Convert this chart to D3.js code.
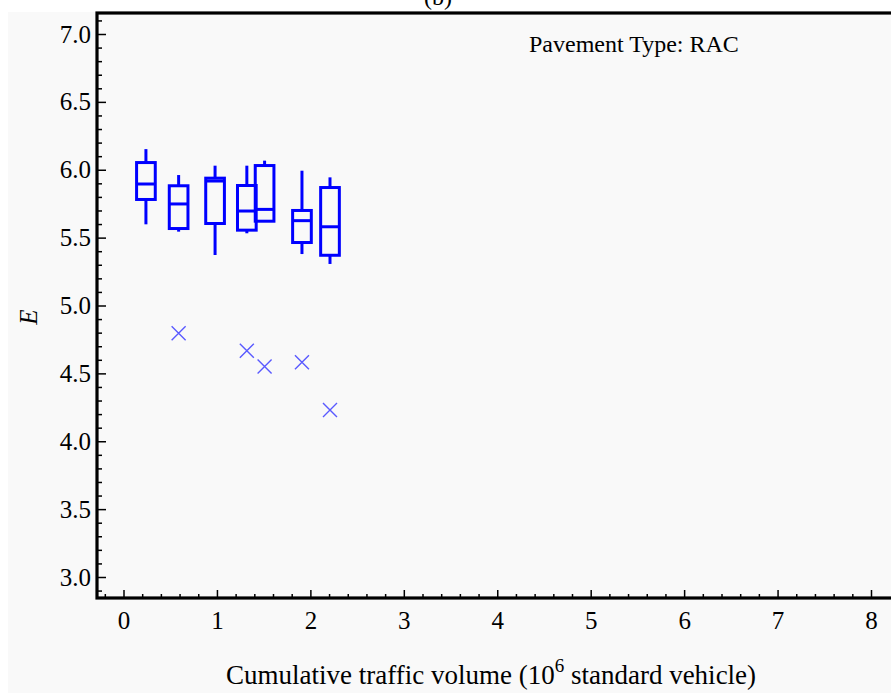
<!DOCTYPE html>
<html>
<head>
<meta charset="utf-8">
<script src="https://cdn.jsdelivr.net/npm/d3@7"></script>
<style>
  html, body { margin: 0; padding: 0; background: #fff; overflow: hidden; }
  svg { display: block; overflow: hidden; }
</style>
</head>
<body>
<div id="chart"></div>
<script>
// box plot data
const trafficVol = [0.24, 0.59, 0.98, 1.32, 1.51, 1.91, 2.21];
const whiskerLow = [5.598, 5.544, 5.372, 5.532, 5.621, 5.379, 5.306];
const q1 = [5.781, 5.567, 5.604, 5.555, 5.621, 5.464, 5.370];
const median = [5.895, 5.748, 5.917, 5.696, 5.708, 5.625, 5.580];
const q3 = [6.053, 5.882, 5.938, 5.884, 6.031, 5.700, 5.869];
const whiskerHigh = [6.152, 5.961, 6.030, 6.030, 6.067, 5.993, 5.944];

const outlierVol = [0.59, 1.32, 1.51, 1.91, 2.21];
const outlierE = [4.795, 4.667, 4.550, 4.582, 4.230];

const xTicks = [0, 1, 2, 3, 4, 5, 6, 7, 8];
const yTicks = [3.0, 3.5, 4.0, 4.5, 5.0, 5.5, 6.0, 6.5, 7.0];

const width = 891, height = 693;
const serif = "'Liberation Serif', 'Times New Roman', serif";
const blue = "#0000ff";

const x = d3.scaleLinear().domain([0, 8]).range([123.5, 871]);
const y = d3.scaleLinear().domain([3, 7]).range([577, 34]);

const frameLeft = 97, frameTop = 13, frameBottom = 598, frameRight = 910;

const svg = d3.select("#chart").append("svg")
  .attr("width", width)
  .attr("height", height);

svg.append("rect")
  .attr("x", 8).attr("y", 12)
  .attr("width", width).attr("height", height)
  .attr("fill", "#f9f9f9");

svg.append("text")
  .attr("x", 438).attr("y", 5)
  .attr("text-anchor", "middle")
  .style("font-family", serif).style("font-size", "24px")
  .text("(b)");

// minor ticks
const xMinor = d3.range(-0.2, 8.1, 0.2).filter(v => Math.abs(v - Math.round(v)) > 0.01);
const yMinor = d3.range(2.9, 7.15, 0.1).filter(v => Math.abs(v * 2 - Math.round(v * 2)) > 0.01);

svg.append("g")
  .attr("transform", `translate(0,${frameBottom})`)
  .call(d3.axisBottom(x).tickValues(xTicks).tickFormat(d3.format("d")).tickSize(-8).tickPadding(13));
svg.append("g")
  .attr("transform", `translate(0,${frameBottom})`)
  .call(d3.axisBottom(x).tickValues(xMinor).tickFormat("").tickSize(-4));

svg.append("g")
  .attr("transform", `translate(${frameLeft},0)`)
  .call(d3.axisLeft(y).tickValues(yTicks).tickFormat(d3.format(".1f")).tickSize(-9).tickPadding(6));
svg.append("g")
  .attr("transform", `translate(${frameLeft},0)`)
  .call(d3.axisLeft(y).tickValues(yMinor).tickFormat("").tickSize(-5));

svg.selectAll(".domain").remove();
svg.selectAll(".tick line").attr("stroke", "#000").attr("stroke-width", 1.5);
svg.selectAll(".tick text")
  .attr("fill", "#000")
  .style("font-family", serif)
  .style("font-size", "25px");

// frame
svg.append("rect")
  .attr("x", frameLeft).attr("y", frameTop)
  .attr("width", frameRight - frameLeft).attr("height", frameBottom - frameTop)
  .attr("fill", "none")
  .attr("stroke", "#000")
  .attr("stroke-width", 3.2);

// boxes
const boxHalf = 0.1;
const boxes = svg.append("g").attr("class", "boxes")
  .selectAll("g")
  .data(trafficVol.map((v, i) => ({ v, lo: whiskerLow[i], q1: q1[i], med: median[i], q3: q3[i], hi: whiskerHigh[i] })))
  .join("g")
  .attr("stroke", blue)
  .attr("stroke-width", 3)
  .attr("fill", "none");

boxes.append("line")
  .attr("x1", d => x(d.v)).attr("x2", d => x(d.v))
  .attr("y1", d => y(d.q3)).attr("y2", d => y(d.hi));
boxes.append("line")
  .attr("x1", d => x(d.v)).attr("x2", d => x(d.v))
  .attr("y1", d => y(d.q1)).attr("y2", d => y(d.lo));
boxes.append("rect")
  .attr("x", d => x(d.v - boxHalf))
  .attr("width", d => x(d.v + boxHalf) - x(d.v - boxHalf))
  .attr("y", d => y(d.q3))
  .attr("height", d => y(d.q1) - y(d.q3));
boxes.append("line")
  .attr("x1", d => x(d.v - boxHalf)).attr("x2", d => x(d.v + boxHalf))
  .attr("y1", d => y(d.med)).attr("y2", d => y(d.med));

// outliers as crosses
const s = 7;
svg.append("g")
  .selectAll("path")
  .data(outlierVol.map((v, i) => [v, outlierE[i]]))
  .join("path")
  .attr("d", d => {
    const cx = x(d[0]), cy = y(d[1]);
    return `M${cx - s},${cy - s}L${cx + s},${cy + s}M${cx - s},${cy + s}L${cx + s},${cy - s}`;
  })
  .attr("stroke", "#5a5aff")
  .attr("stroke-width", 1.4)
  .attr("fill", "none");

svg.append("text")
  .attr("x", 529).attr("y", 52)
  .style("font-family", serif).style("font-size", "24px")
  .text("Pavement Type: RAC");

const xTitle = svg.append("text")
  .attr("x", 226).attr("y", 684)
  .style("font-family", serif).style("font-size", "27px");
xTitle.append("tspan").text("Cumulative traffic volume (10");
xTitle.append("tspan").attr("dy", -12).style("font-size", "19px").text("6");
xTitle.append("tspan").attr("dy", 12).text(" standard vehicle)");

svg.append("text")
  .attr("transform", "translate(37,317) rotate(-90)")
  .attr("text-anchor", "middle")
  .style("font-family", serif).style("font-size", "25px").style("font-style", "italic")
  .text("E");
</script>
</body>
</html>
